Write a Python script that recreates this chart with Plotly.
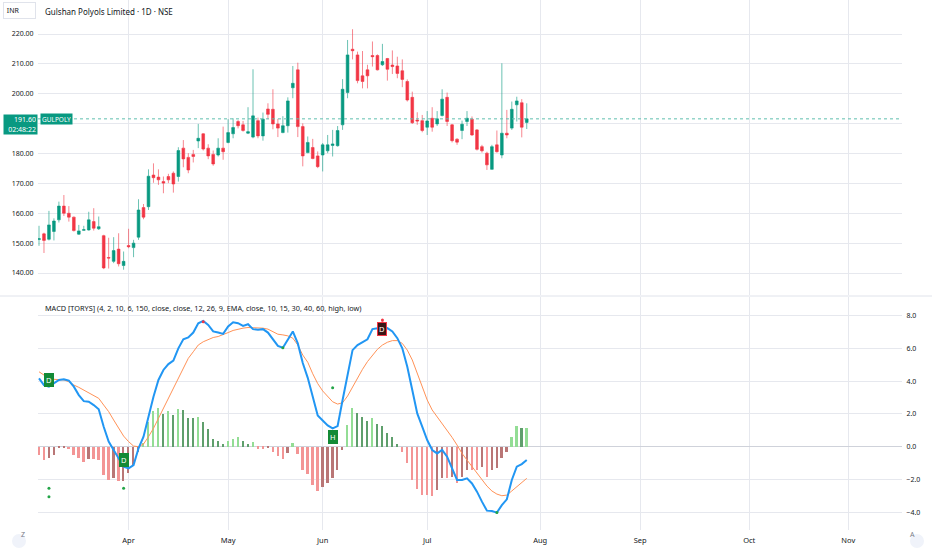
import plotly.graph_objects as go

# daily candles, bar 0 = first visible session (mid March 2025), bar 98 = 29 Jul
OPEN = [151.2, 153.1, 151.3, 153.9, 157.8, 162.4, 160.0, 158.7, 153.0, 154.3,
        154.4, 157.2, 154.8, 152.5, 145.2, 143.9, 148.0, 142.5, 149.2, 148.5,
        152.0, 161.9, 162.2, 172.8, 172.1, 170.6, 172.3, 173.4, 172.3, 181.8,
        178.7, 179.7, 184.2, 186.6, 181.8, 179.7, 179.5, 181.8, 183.7, 186.6,
        190.7, 189.6, 186.8, 185.5, 191.0, 185.9, 194.9, 194.8, 189.9, 187.0,
        189.3, 202.0, 208.0, 189.0, 180.3, 182.0, 179.2, 179.5, 180.9, 182.7,
        182.6, 189.6, 200.4, 214.9, 213.0, 206.0, 208.0, 212.8, 212.8, 209.7,
        211.8, 209.6, 209.3, 207.7, 204.1, 198.8, 191.2, 191.0, 188.8, 191.8,
        189.9, 192.7, 198.8, 189.6, 184.8, 187.7, 190.7, 191.5, 187.9, 182.3,
        180.1, 174.7, 182.9, 179.5, 186.8, 188.5, 196.3, 197.0, 190.4]
HIGH = [155.8, 153.5, 160.8, 158.3, 163.9, 166.1, 162.4, 158.9, 156.1, 155.8,
        160.5, 161.7, 158.9, 152.8, 151.8, 152.0, 153.3, 147.2, 154.8, 151.1,
        164.7, 163.1, 174.7, 176.7, 174.7, 172.3, 173.2, 174.0, 182.1, 184.5,
        180.1, 181.2, 189.9, 186.8, 183.1, 181.0, 185.1, 189.0, 191.5, 191.8,
        191.2, 190.9, 195.5, 208.2, 192.0, 193.7, 196.8, 201.5, 191.6, 192.5,
        198.8, 209.3, 210.4, 190.1, 185.7, 184.9, 180.7, 183.5, 186.2, 187.9,
        189.2, 204.9, 218.0, 221.6, 214.1, 214.3, 209.7, 217.5, 213.2, 216.7,
        212.0, 214.5, 212.4, 211.5, 204.8, 200.7, 193.8, 192.9, 194.2, 195.5,
        194.2, 201.5, 200.4, 189.9, 185.1, 191.0, 194.2, 192.4, 188.2, 182.9,
        180.6, 182.9, 187.7, 210.2, 194.6, 197.4, 199.0, 198.2, 196.8]
LOW = [149.1, 146.7, 150.9, 150.9, 156.9, 159.1, 157.2, 153.9, 152.8, 154.2,
       154.2, 154.2, 154.4, 141.3, 141.5, 143.3, 142.2, 141.1, 148.3, 145.3,
       151.1, 158.0, 161.1, 170.2, 169.5, 166.7, 170.1, 166.9, 170.6, 175.4,
       173.4, 177.0, 181.8, 181.0, 178.1, 175.9, 179.0, 177.9, 183.4, 185.1,
       188.4, 187.3, 186.5, 185.1, 185.1, 184.3, 191.5, 188.1, 185.5, 186.8,
       187.0, 198.5, 185.5, 175.7, 180.1, 178.1, 175.1, 174.0, 180.1, 179.0,
       182.3, 187.9, 198.5, 211.5, 203.5, 201.8, 201.8, 209.1, 207.8, 209.3,
       204.4, 206.6, 205.2, 202.2, 197.4, 189.9, 189.6, 187.1, 186.2, 187.3,
       189.2, 192.4, 189.2, 183.7, 182.9, 184.8, 189.2, 185.9, 181.0, 180.3,
       174.5, 174.6, 180.3, 178.4, 185.1, 187.9, 190.7, 185.4, 188.2]
CLOSE = [151.5, 150.9, 156.1, 157.4, 162.4, 160.0, 158.7, 154.2, 154.1, 154.5,
         157.8, 155.0, 155.5, 141.7, 145.0, 147.5, 143.1, 143.9, 148.8, 150.0,
         161.1, 158.7, 172.4, 171.9, 171.2, 170.1, 171.2, 169.8, 181.0, 178.2,
         174.5, 179.0, 185.1, 181.5, 179.2, 176.5, 181.8, 180.6, 187.0, 188.7,
         189.3, 187.7, 187.3, 192.6, 185.9, 191.5, 193.1, 189.9, 188.5, 189.3,
         197.6, 203.5, 189.0, 179.2, 183.7, 178.3, 175.6, 182.9, 182.9, 183.2,
         187.7, 201.5, 213.0, 214.4, 204.4, 204.1, 206.0, 212.4, 208.0, 210.8,
         208.2, 209.1, 206.8, 204.8, 197.9, 190.3, 190.9, 187.7, 190.9, 188.8,
         191.6, 198.2, 190.7, 184.3, 183.8, 189.8, 191.8, 186.2, 181.4, 180.9,
         176.2, 182.3, 180.6, 186.8, 186.2, 194.8, 197.6, 188.8, 191.6]
LAST_PRICE = 191.60

# MACD [TORYS] pane
MACD = [4.17, 3.76, 3.66, 3.87, 4.07, 4.11, 4.03, 3.66, 3.15, 2.78,
        2.74, 2.54, 2.28, 1.22, 0.31, -0.20, -0.71, -1.22, -1.32, -1.12,
        -0.10, 0.61, 1.83, 3.05, 4.07, 4.68, 5.04, 5.25, 6.00, 6.55,
        6.66, 6.96, 7.53, 7.67, 7.43, 7.03, 6.96, 6.88, 7.33, 7.59,
        7.53, 7.37, 7.47, 7.17, 7.13, 7.17, 6.96, 6.55, 6.15, 6.04,
        6.51, 7.03, 6.30, 5.10, 4.20, 3.00, 1.90, 1.60, 1.30, 1.12,
        1.26, 2.85, 4.47, 5.89, 6.20, 6.35, 6.55, 7.17, 7.23, 7.17,
        7.23, 7.03, 6.62, 6.00, 4.88, 3.46, 2.03, 1.22, 0.41, -0.20,
        -0.41, -0.20, -0.61, -1.32, -2.03, -2.03, -1.93, -2.24, -2.74, -3.35,
        -3.90, -3.92, -4.02, -3.56, -3.21, -2.03, -1.22, -1.06, -0.81]
SIGNAL = [4.57, 4.37, 4.17, 4.11, 4.11, 4.07, 3.96, 3.76, 3.62, 3.46,
          3.29, 3.15, 2.95, 2.54, 2.14, 1.63, 1.12, 0.65, 0.31, 0.04,
          0.00, 0.16, 0.61, 1.12, 1.73, 2.34, 2.95, 3.56, 4.23, 4.88,
          5.39, 5.79, 6.20, 6.40, 6.55, 6.66, 6.72, 6.82, 6.96, 7.09,
          7.17, 7.23, 7.27, 7.27, 7.27, 7.23, 7.17, 7.03, 6.86, 6.82,
          6.76, 6.62, 6.20, 5.59, 5.15, 4.45, 3.85, 3.40, 3.09, 2.74,
          2.60, 2.68, 3.09, 3.66, 4.23, 4.72, 5.19, 5.59, 5.94, 6.20,
          6.37, 6.47, 6.47, 6.30, 5.89, 5.29, 4.47, 3.66, 2.85, 2.24,
          1.83, 1.42, 1.02, 0.57, 0.10, -0.41, -0.81, -1.22, -1.63, -2.03,
          -2.40, -2.70, -2.89, -2.99, -2.95, -2.70, -2.44, -2.20, -1.93]
HIST = [-0.51, -0.81, -0.71, -0.51, -0.10, -0.05, -0.14, -0.51, -0.71, -0.91,
        -0.77, -0.77, -0.81, -1.73, -2.03, -1.93, -2.09, -2.07, -1.63, -1.20,
        -0.30, 0.25, 1.52, 2.18, 2.38, 2.00, 2.20, 1.93, 2.28, 2.24,
        1.77, 1.73, 1.83, 1.52, 1.06, 0.47, 0.37, 0.16, 0.37, 0.49,
        0.57, 0.37, 0.16, 0.26, -0.12, -0.12, -0.08, -0.31, -0.57, -0.75,
        -0.41, 0.20, -0.45, -1.44, -1.65, -2.35, -2.73, -2.48, -2.24, -1.93,
        -1.42, -0.20, 1.32, 2.34, 2.07, 1.83, 1.59, 1.73, 1.38, 1.26,
        0.85, 0.61, 0.16, -0.30, -1.02, -2.03, -2.58, -2.95, -2.95, -3.01,
        -2.64, -1.89, -1.93, -1.83, -2.20, -1.83, -1.42, -1.42, -1.42, -1.22,
        -1.83, -1.42, -1.32, -0.71, -0.30, 0.61, 1.26, 1.12, 1.16]

# signal labels on the MACD line: text, bar, anchor, style
LABEL_TEXT = ["D", "D", "H", "D"]
LABEL_BAR = [2, 17, 59, 69]
LABEL_ANCHOR = ["bottom", "bottom", "top", "middle"]
LABEL_BULL = [True, True, True, False]

GREEN_DOT_BAR = [2, 2, 17, 49, 59, 92]
GREEN_DOT_VAL = [-2.54, -3.05, -2.54, 6.04, 3.60, -4.02]
RED_DOT_BAR = [33, 69, 69]
RED_DOT_VAL = [7.62, 7.73, 7.56]

MONTHS = ["Apr", "May", "Jun", "Jul", "Aug", "Sep", "Oct", "Nov"]
MONTH_BAR = [18, 38, 57, 78, 100.7, 120.8, 142.7, 162.6]
PRICE_TICKS = [140, 150, 160, 170, 180, 190, 200, 210, 220]

W, H = 932, 550
UP, DOWN = "#089981", "#F23645"
GRID = "#e6e8ee"
TXT = "#131722"
FONT = "Noto Sans, sans-serif"

bars = list(range(len(CLOSE)))

hist_colors = []
for k, v in enumerate(HIST):
    prev = HIST[k - 1] if k else v
    if v >= 0:
        hist_colors.append("#93dd95" if v >= prev else "#5f9f6c")
    else:
        hist_colors.append("#f39595" if v <= prev else "#b97676")

# the last-price tag hides the axis label it sits on
price_ticktext = ["" if abs(p - LAST_PRICE) < 4 else f"{p:.2f}" for p in PRICE_TICKS]

fig = go.Figure()
fig.add_trace(go.Candlestick(
    x=bars, open=OPEN, high=HIGH, low=LOW, close=CLOSE,
    increasing=dict(line=dict(color="rgba(8,153,129,0.6)", width=1), fillcolor=UP),
    decreasing=dict(line=dict(color="rgba(242,54,69,0.6)", width=1), fillcolor=DOWN),
    whiskerwidth=0, xaxis="x", yaxis="y",
))
fig.add_trace(go.Bar(x=bars, y=HIST, marker_color=hist_colors, marker_line_width=0,
                     width=0.35, xaxis="x2", yaxis="y2"))
fig.add_trace(go.Scatter(x=bars, y=SIGNAL, mode="lines", line=dict(color="#ff9257", width=1),
                         xaxis="x2", yaxis="y2"))
fig.add_trace(go.Scatter(x=bars, y=MACD, mode="lines", line=dict(color="#2196F3", width=2),
                         xaxis="x2", yaxis="y2"))
fig.add_trace(go.Scatter(x=GREEN_DOT_BAR, y=GREEN_DOT_VAL, mode="markers",
                         marker=dict(color="#22a447", size=3), xaxis="x2", yaxis="y2"))
fig.add_trace(go.Scatter(x=RED_DOT_BAR, y=RED_DOT_VAL, mode="markers",
                         marker=dict(color="#f23645", size=3), xaxis="x2", yaxis="y2"))

for txt, b, anc, bull in zip(LABEL_TEXT, LABEL_BAR, LABEL_ANCHOR, LABEL_BULL):
    fig.add_annotation(
        x=b, y=MACD[b], xref="x2", yref="y2", text=txt, showarrow=False,
        yanchor=anc, yshift=-2 if anc == "top" else 0,
        font=dict(color="white", size=7.5, family=FONT),
        bgcolor="#138a36" if bull else "#3a1616",
        bordercolor="#138a36" if bull else DOWN, borderwidth=1, borderpad=1,
    )

# last price line and its labels
fig.add_shape(type="line", xref="paper", yref="y", x0=38 / W, x1=902 / W,
              y0=LAST_PRICE, y1=LAST_PRICE, line=dict(color="#5fbfae", width=1, dash="dot"))
fig.add_annotation(x=3 / W, xref="paper", xanchor="left", y=LAST_PRICE, yref="y",
                   yanchor="top", yshift=5, text="191.60<br>02:48:22", showarrow=False,
                   align="right", width=31, height=17, bgcolor=UP, borderpad=1,
                   font=dict(color="white", size=7, family=FONT))
fig.add_annotation(x=39.5 / W, xref="paper", xanchor="left", y=LAST_PRICE, yref="y",
                   yanchor="middle", text="GULPOLY", showarrow=False, bgcolor=UP,
                   height=8, borderpad=1, font=dict(color="white", size=6.5, family=FONT))

# header texts
fig.add_annotation(x=3 / W, y=1 - 2 / H, xref="paper", yref="paper", xanchor="left",
                   yanchor="top", text=" INR", showarrow=False, width=29, height=13,
                   align="left", bordercolor="#e0e3eb", borderwidth=1, borderpad=1,
                   bgcolor="white", font=dict(color=TXT, size=7, family=FONT))
fig.add_annotation(x=43 / W, y=1 - 11 / H, xref="paper", yref="paper", xanchor="left",
                   yanchor="middle", text="Gulshan Polyols Limited · 1D · NSE",
                   showarrow=False, font=dict(color=TXT, size=8, family=FONT))
fig.add_annotation(x=43 / W, y=1 - 308 / H, xref="paper", yref="paper", xanchor="left",
                   yanchor="middle",
                   text="MACD [TORYS] (4, 2, 10, 6, 150, close, close, 12, 26, 9, EMA, "
                        "close, 10, 15, 30, 40, 60, high, low)",
                   showarrow=False, font=dict(color=TXT, size=7.3, family=FONT))

# pane separator and corner buttons
fig.add_shape(type="line", xref="paper", yref="paper", x0=0, x1=1,
              y0=1 - 296 / H, y1=1 - 296 / H, line=dict(color="#e0e3eb", width=1))
for cx, letter in [(19, "Z"), (917, "A")]:
    fig.add_shape(type="circle", xref="paper", yref="paper",
                  x0=(cx - 7) / W, x1=(cx + 7) / W, y0=1 - 548 / H, y1=1 - 534 / H,
                  fillcolor="#f0f3fa", line=dict(width=0))
    fig.add_annotation(x=cx / W, y=1 - 541 / H, xref="paper", yref="paper", text=letter,
                       showarrow=False, font=dict(color="#787b86", size=7, family=FONT))

xr = [-0.2, 173.4]
fig.update_layout(
    width=W, height=H,
    margin=dict(l=0, r=0, t=0, b=0, autoexpand=False),
    paper_bgcolor="white", plot_bgcolor="white",
    showlegend=False, bargap=0, boxgap=0.22,
    font=dict(family=FONT, color=TXT, size=8),
    xaxis=dict(domain=[38 / W, 902 / W], range=xr, anchor="y", tickvals=MONTH_BAR,
               showticklabels=False, showgrid=True, gridcolor=GRID, zeroline=False,
               rangeslider=dict(visible=False), automargin=False),
    yaxis=dict(domain=[1 - 295 / H, 1], range=[132.64, 231.38], anchor="x", side="left",
               tickvals=PRICE_TICKS, ticktext=price_ticktext, showgrid=True, gridcolor=GRID,
               zeroline=False, tickfont=dict(size=7, color=TXT), automargin=False,
               ticks="outside", ticklen=2, tickcolor="rgba(0,0,0,0)"),
    xaxis2=dict(domain=[38 / W, 902 / W], range=xr, anchor="y2", matches="x",
                tickvals=MONTH_BAR, ticktext=MONTHS, showgrid=True, gridcolor=GRID,
                zeroline=False, tickfont=dict(size=7.5, color=TXT), automargin=False,
                ticks="outside", ticklen=3, tickcolor="rgba(0,0,0,0)"),
    yaxis2=dict(domain=[20 / H, 1 - 297 / H], range=[-5.08, 9.13], anchor="x2", side="right",
                dtick=2, tickformat=".1f", showgrid=True, gridcolor=GRID,
                zeroline=True, zerolinecolor="#cfd2da", zerolinewidth=1,
                tickfont=dict(size=7, color=TXT), automargin=False,
                ticks="outside", ticklen=2, tickcolor="rgba(0,0,0,0)"),
)

# the page body has a default 8px margin; drop it so the figure fills the window
fig.write_html("out.html", config={"displayModeBar": False},
               post_script="document.body.style.margin='0';")
